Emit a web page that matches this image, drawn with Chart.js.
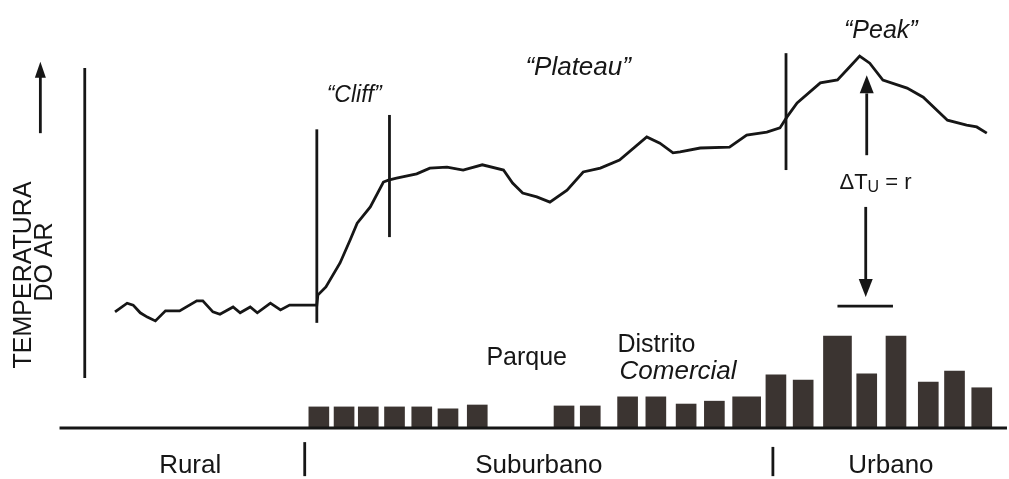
<!DOCTYPE html>
<html>
<head>
<meta charset="utf-8">
<style>
  body { margin: 0; background: #fff; }
  #wrap { width: 1009px; height: 479px; position: relative; }
</style>
<script src="https://cdn.jsdelivr.net/npm/chart.js@4.4.1/dist/chart.umd.min.js"></script>
</head>
<body>
<div id="wrap"><canvas id="perfil"></canvas></div>
<script>
// perfil de temperatura do ar ao longo do transecto (distancia 0-100, temperatura relativa 0-100)
var perfilDist = [11.4, 12.6, 13.2, 13.9, 14.6, 15.4, 16.4, 17.8, 19.5, 20.1, 21.1, 21.8, 23.1, 23.8, 24.8, 25.5, 26.8, 27.8, 28.7, 31.4,
  31.5, 32.3, 33.7, 34.7, 35.4, 36.7, 38.0, 38.5, 39.3, 41.3, 42.6, 44.3, 45.9, 47.8, 49.9, 50.8, 51.8, 53.2, 54.5, 56.2,
  57.8, 59.5, 61.4, 64.1, 65.4, 66.7, 67.4, 69.4, 72.3, 74.0, 76.0, 77.3, 78.0, 79.0, 81.3, 83.0, 84.2, 85.2, 86.2, 87.5,
  89.9, 91.5, 93.9, 95.8, 96.8, 97.8];
var perfilTemp = [34.9, 36.7, 36.3, 34.7, 33.8, 33.0, 35.1, 35.1, 37.2, 37.2, 34.9, 34.4, 35.9, 34.7, 35.9, 34.7, 36.7, 35.3, 36.3, 36.3,
  38.4, 40.1, 45.1, 49.9, 53.4, 56.8, 62.0, 62.4, 62.8, 63.7, 64.9, 65.1, 64.5, 65.6, 64.5, 61.8, 59.7, 58.9, 57.8, 60.3,
  64.1, 64.9, 66.6, 71.4, 70.1, 68.1, 68.3, 69.1, 69.3, 71.8, 72.4, 73.3, 75.6, 78.5, 82.7, 83.3, 86.0, 88.3, 86.8, 83.3,
  81.6, 79.7, 74.9, 73.9, 73.5, 72.2];

// edificios (posicao ao longo do transecto e altura relativa)
var predioDist = [31.6, 34.1, 36.5, 39.1, 41.8, 44.4, 47.3, 55.9, 58.5, 62.2, 65.0, 68.0, 70.8, 76.9, 79.6, 85.9, 88.8, 92.0, 94.6, 97.3];
var predioAltura = [4.4, 4.4, 4.4, 4.4, 4.4, 4.0, 4.8, 4.6, 4.6, 6.5, 6.5, 5.0, 5.6, 11.1, 10.0, 11.3, 19.2, 9.6, 11.9, 8.4];
var predioLargoDist = [74.0, 83.0];
var predioLargoAltura = [6.5, 19.2];

var zonas = ['Rural', 'Suburbano', 'Urbano'];
var zonaLimites = [7.5, 30.2, 76.6, 100];

function pontos(xs, ys) {
  return xs.map(function (x, i) { return { x: x, y: ys[i] }; });
}

var tinta = '#161616';
var corPredio = '#3b3431';

var desenhos = {
  id: 'desenhos',
  afterDatasetsDraw: function (chart) {
    var ctx = chart.ctx;
    var sx = chart.scales.x, sy = chart.scales.y, sh = chart.scales.h;
    var X = function (v) { return sx.getPixelForValue(v); };
    var Y = function (v) { return sy.getPixelForValue(v); };

    ctx.save();
    ctx.strokeStyle = tinta;
    ctx.fillStyle = tinta;
    ctx.lineCap = 'butt';

    function linha(x1, y1, x2, y2, w) {
      ctx.lineWidth = w || 2.8;
      ctx.beginPath();
      ctx.moveTo(x1, y1);
      ctx.lineTo(x2, y2);
      ctx.stroke();
    }
    function ponta(x, y, dir, w, h) {
      // dir = -1 para cima, 1 para baixo
      ctx.beginPath();
      ctx.moveTo(x, y);
      ctx.lineTo(x - w / 2, y - dir * h);
      ctx.lineTo(x + w / 2, y - dir * h);
      ctx.closePath();
      ctx.fill();
    }

    // linha do solo
    linha(X(5.9), sh.getPixelForValue(0), X(99.8), sh.getPixelForValue(0), 2.8);

    // eixo vertical e seta da temperatura
    linha(X(8.4), Y(85.8), X(8.4), Y(21.1));
    linha(X(4.0), Y(84.0), X(4.0), Y(72.2));
    ponta(X(4.0), Y(87.1), -1, 11, 16);

    // marcadores verticais
    [[31.4, 32.6, 73.0], [38.6, 50.5, 76.0], [77.9, 64.5, 88.9]].forEach(function (m) {
      linha(X(m[0]), Y(m[2]), X(m[0]), Y(m[1]));
    });

    // delta T
    linha(X(85.9), Y(80.5), X(85.9), Y(67.6));
    ponta(X(85.9), Y(84.3), -1, 14, 18);
    linha(X(85.8), Y(56.8), X(85.8), Y(41.5));
    ponta(X(85.8), Y(38.0), 1, 14, 18);
    linha(X(83.0), Y(36.1), X(88.5), Y(36.1));

    // separadores de zonas
    linha(X(zonaLimites[1]), Y(7.7), X(zonaLimites[1]), Y(0.6));
    linha(X(zonaLimites[2]), Y(6.7), X(zonaLimites[2]), Y(0.6));

    ctx.textBaseline = 'middle';
    ctx.textAlign = 'center';
    var fonte = '"Liberation Sans", Arial, sans-serif';

    ctx.font = '26px ' + fonte;
    zonas.forEach(function (z, i) {
      var c = (zonaLimites[i] + zonaLimites[i + 1]) / 2;
      ctx.fillText(z, X(c), Y(2.7));
    });

    // rotulo do eixo
    ctx.save();
    ctx.translate(X(2.4), Y(42.6));
    ctx.rotate(-Math.PI / 2);
    ctx.font = '25px ' + fonte;
    ctx.fillText('TEMPERATURA', 0, 0);
    ctx.restore();
    ctx.save();
    ctx.translate(X(4.5), Y(45.3));
    ctx.rotate(-Math.PI / 2);
    ctx.font = '25px ' + fonte;
    ctx.fillText('DO AR', 0, 0);
    ctx.restore();

    ctx.font = 'italic 23px ' + fonte;
    ctx.fillText('\u201CCliff\u201D', X(35.1), Y(80.0));
    ctx.font = 'italic 26px ' + fonte;
    ctx.fillText('\u201CPlateau\u201D', X(57.3), Y(85.8));
    ctx.font = 'italic 25px ' + fonte;
    ctx.fillText('\u201CPeak\u201D', X(87.3), Y(93.5));

    ctx.font = '25px ' + fonte;
    ctx.fillText('Parque', X(52.2), Y(25.3));
    ctx.textAlign = 'left';
    ctx.fillText('Distrito', X(61.2), Y(28.0));
    ctx.font = 'italic 26px ' + fonte;
    ctx.fillText('Comercial', X(61.4), Y(22.3));

    // delta T_u = r
    ctx.font = '22px ' + fonte;
    var x0 = X(83.2), y0 = Y(61.8);
    ctx.fillText('\u0394T', x0, y0);
    var w1 = ctx.measureText('\u0394T').width;
    ctx.font = '16px ' + fonte;
    ctx.fillText('U', x0 + w1, y0 + 5);
    var w2 = ctx.measureText('U').width;
    ctx.font = '22px ' + fonte;
    ctx.fillText(' = r', x0 + w1 + w2, y0);

    ctx.restore();
  }
};

new Chart(document.getElementById('perfil'), {
  type: 'line',
  data: {
    datasets: [
      {
        type: 'line',
        data: pontos(perfilDist, perfilTemp),
        xAxisID: 'x', yAxisID: 'y',
        borderColor: tinta,
        borderWidth: 2.8,
        pointRadius: 0,
        tension: 0,
        fill: false
      },
      {
        type: 'bar',
        data: pontos(predioDist, predioAltura),
        xAxisID: 'x', yAxisID: 'h',
        backgroundColor: corPredio,
        barThickness: 20,
        grouped: false
      },
      {
        type: 'bar',
        data: pontos(predioLargoDist, predioLargoAltura),
        xAxisID: 'x', yAxisID: 'h',
        backgroundColor: corPredio,
        barThickness: 28,
        grouped: false
      }
    ]
  },
  options: {
    responsive: true,
    maintainAspectRatio: false,
    animation: false,
    layout: { padding: 0 },
    plugins: { legend: { display: false }, tooltip: { enabled: false } },
    scales: {
      x: { type: 'linear', min: 0, max: 100, offset: false, display: false },
      y: { type: 'linear', min: 0, max: 100, display: false },
      h: { type: 'linear', min: -10.65, max: 89.35, display: false }
    }
  },
  plugins: [desenhos]
});
</script>
</body>
</html>
